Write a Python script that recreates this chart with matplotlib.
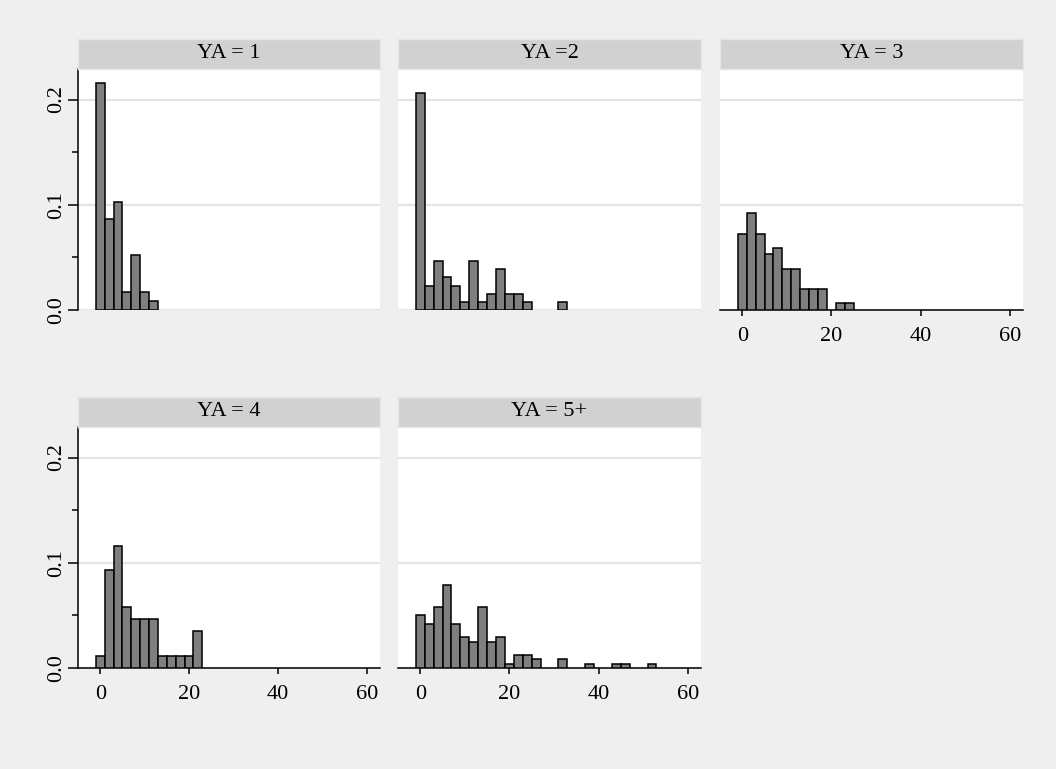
import numpy as np
import matplotlib
matplotlib.use("Agg")
import matplotlib.pyplot as plt
from matplotlib.ticker import MultipleLocator, FormatStrFormatter

plt.rcParams['font.family'] = ['Liberation Serif', 'DejaVu Serif']

# bin centres (width 2) and densities for each YA group
titles = ["YA = 1", "YA =2", "YA = 3", "YA = 4", "YA = 5+"]

ya1_x = [0, 2, 4, 6, 8, 10, 12]
ya1_y = [0.216, 0.086, 0.103, 0.017, 0.052, 0.017, 0.0086]

ya2_x = [0, 2, 4, 6, 8, 10, 12, 14, 16, 18, 20, 22, 24, 32]
ya2_y = [0.206, 0.023, 0.047, 0.031, 0.023, 0.0075, 0.047, 0.0075,
         0.0155, 0.039, 0.0155, 0.0155, 0.0075, 0.0075]

ya3_x = [0, 2, 4, 6, 8, 10, 12, 14, 16, 18, 22, 24]
ya3_y = [0.072, 0.092, 0.072, 0.053, 0.059, 0.039, 0.039, 0.020,
         0.020, 0.020, 0.0066, 0.0066]

ya4_x = [0, 2, 4, 6, 8, 10, 12, 14, 16, 18, 20, 22]
ya4_y = [0.0116, 0.093, 0.116, 0.058, 0.0465, 0.0465, 0.0465, 0.0116,
         0.0116, 0.0116, 0.0116, 0.035]

ya5_x = [0, 2, 4, 6, 8, 10, 12, 14, 16, 18, 20, 22, 24, 26, 32, 38, 44, 46, 52]
ya5_y = [0.050, 0.042, 0.058, 0.079, 0.042, 0.029, 0.025, 0.058, 0.025,
         0.029, 0.0042, 0.0125, 0.0125, 0.0083, 0.0083, 0.0042, 0.0042,
         0.0042, 0.0042]

xs = [ya1_x, ya2_x, ya3_x, ya4_x, ya5_x]
ys = [ya1_y, ya2_y, ya3_y, ya4_y, ya5_y]

W, H = 1056, 769
bg = '#efefef'
fig = plt.figure(figsize=(W / 100, H / 100), dpi=100, facecolor=bg)

# panel boxes in pixels: (left, right), (plot top, plot bottom)
cols = [(78, 380), (398, 701), (720, 1023)]
rows = [(69, 310), (427, 668)]
strip_h = 30
# (row, col, show y axis, show x axis)
layout = [(0, 0, True, False), (0, 1, False, False), (0, 2, False, True),
          (1, 0, True, True), (1, 1, False, True)]

for i, (r, c, show_y, show_x) in enumerate(layout):
    x0, x1 = cols[c]
    t, b = rows[r]
    ax = fig.add_axes([x0 / W, 1 - b / H, (x1 - x0) / W, (b - t) / H])
    ax.set_facecolor('white')
    ax.bar(xs[i], ys[i], width=2, color='#7f7f7f', edgecolor='black',
           linewidth=1.1, zorder=3)
    ax.set_xlim(-5, 63)
    ax.set_ylim(0, 0.229)
    ax.yaxis.set_major_locator(MultipleLocator(0.1))
    ax.yaxis.set_minor_locator(MultipleLocator(0.05))
    ax.yaxis.set_major_formatter(FormatStrFormatter('%.1f'))
    ax.xaxis.set_major_locator(MultipleLocator(20))
    ax.grid(axis='y', color='#e4e4e4', linewidth=1.5, zorder=0)
    ax.set_axisbelow(True)
    for s in ['top', 'right']:
        ax.spines[s].set_visible(False)
    ax.spines['left'].set_visible(show_y)
    ax.spines['bottom'].set_visible(show_x)
    ax.spines['left'].set_linewidth(1.1)
    ax.spines['bottom'].set_linewidth(1.1)
    if show_y:
        ax.tick_params(axis='y', which='major', length=7.2, width=1.1,
                       labelsize=16, pad=1.5)
        ax.tick_params(axis='y', which='minor', length=4.3, width=1.1)
        for lab in ax.get_yticklabels():
            lab.set_rotation(90)
            lab.set_va('center')
    else:
        ax.tick_params(axis='y', which='both', left=False, labelleft=False)
    if show_x:
        ax.tick_params(axis='x', length=4.5, width=1.1, labelsize=16, pad=7.5)
    else:
        ax.tick_params(axis='x', bottom=False, labelbottom=False)

    # strip with group label
    sax = fig.add_axes([x0 / W, 1 - t / H, (x1 - x0) / W, strip_h / H])
    sax.set_facecolor('#d1d1d1')
    sax.set_xticks([])
    sax.set_yticks([])
    for s in sax.spines.values():
        s.set_color('#dce8ec')
        s.set_linewidth(1)
    sax.text(0.5, 0.5, titles[i], ha='center', va='center', fontsize=16,
             transform=sax.transAxes)

fig.savefig('out.png', dpi=100, facecolor=bg)
